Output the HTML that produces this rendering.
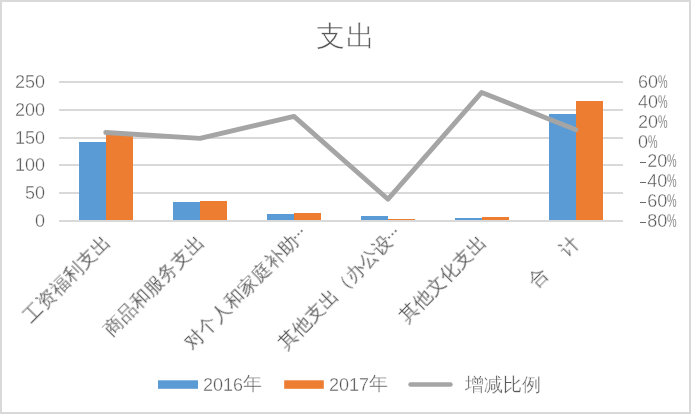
<!DOCTYPE html>
<html><head><meta charset="utf-8">
<style>
html,body{margin:0;padding:0;background:#fff;}
body{width:691px;height:414px;position:relative;overflow:hidden;font-family:"Liberation Sans",sans-serif;color:#595959;}
.frame{position:absolute;left:0;top:0;width:691px;height:414px;box-sizing:border-box;border:2px solid #d9d9d9;}
.t{position:absolute;white-space:nowrap;line-height:1;will-change:transform;-webkit-text-stroke:0.35px #fff;}
.title{-webkit-text-stroke:0.6px #fff;left:316.4px;top:22.2px;font-size:28.5px;letter-spacing:0.5px;}
.yl{font-size:18px;text-align:right;width:40px;}
.yr{font-size:18px;text-align:left;}
.pc{display:inline-block;transform:scaleX(0.6);transform-origin:0 50%;}
.mn{display:inline-block;position:relative;width:9.2px;height:1px;}
.mn::before{content:"";position:absolute;left:2.3px;top:-4.4px;width:5.8px;height:1px;background:#6a6a6a;}
.el{position:absolute;left:100%;top:0;width:0;height:100%;-webkit-text-stroke:0;}
.el::before{content:"";position:absolute;left:0.3px;top:8.2px;width:1.9px;height:1.9px;border-radius:1px;background:#595959;box-shadow:4.6px 0 0 #595959,9.2px 0 0 #595959;}
.gap{display:inline-block;width:25px;}
.cat{-webkit-text-stroke:0.15px #fff;font-size:19.4px;transform-origin:100% 50%;transform:rotate(-45deg);text-align:right;}
.leg{font-size:18px;}
.cj{font-size:19.4px;position:relative;top:-1px;}
</style></head>
<body>
<div class="frame"></div>
<svg width="691" height="414" style="position:absolute;left:0;top:0">
  <g fill="#d9d9d9" shape-rendering="crispEdges">
    <rect x="59" y="81" width="564" height="2"/>
    <rect x="59" y="109" width="564" height="2"/>
    <rect x="59" y="137" width="564" height="2"/>
    <rect x="59" y="164" width="564" height="2"/>
    <rect x="59" y="192" width="564" height="2"/>
    <rect x="59" y="220" width="564" height="2"/>
  </g>
  <g fill="#5b9bd5" shape-rendering="crispEdges">
    <rect x="79" y="142" width="27" height="78"/>
    <rect x="173" y="202" width="27" height="18"/>
    <rect x="267" y="214" width="27" height="6"/>
    <rect x="361" y="216" width="27" height="4"/>
    <rect x="455" y="218" width="27" height="2"/>
    <rect x="549" y="114" width="27" height="106"/>
  </g>
  <g fill="#ed7d31" shape-rendering="crispEdges">
    <rect x="106" y="134" width="27" height="86"/>
    <rect x="200" y="201" width="27" height="19"/>
    <rect x="294" y="213" width="27" height="7"/>
    <rect x="388" y="219" width="27" height="1"/>
    <rect x="482" y="217" width="27" height="3"/>
    <rect x="576" y="101" width="27" height="119"/>
  </g>
  <polyline points="105.7,132.5 200,138.4 294,116.4 388,199.2 481.7,92.4 576,129.7" fill="none" stroke="#a5a5a5" stroke-width="4.8" stroke-linejoin="round" stroke-linecap="round"/>
  <rect x="158" y="380.3" width="40" height="8.5" fill="#5b9bd5"/>
  <rect x="284.2" y="380.3" width="39.6" height="8.5" fill="#ed7d31"/>
  <line x1="410.5" y1="384.5" x2="450.5" y2="384.5" stroke="#a5a5a5" stroke-width="4.5" stroke-linecap="round"/>
</svg>
<div class="t title">支出</div>

<div class="t yl" style="left:5px;top:73px">250</div>
<div class="t yl" style="left:5px;top:101px">200</div>
<div class="t yl" style="left:5px;top:129px">150</div>
<div class="t yl" style="left:5px;top:156px">100</div>
<div class="t yl" style="left:5px;top:184px">50</div>
<div class="t yl" style="left:5px;top:212px">0</div>

<div class="t yr" style="left:638px;top:73px">60<span class="pc">%</span></div>
<div class="t yr" style="left:638px;top:93px">40<span class="pc">%</span></div>
<div class="t yr" style="left:638px;top:113px">20<span class="pc">%</span></div>
<div class="t yr" style="left:638px;top:133px">0<span class="pc">%</span></div>
<div class="t yr" style="left:638px;top:152px"><span class="mn"></span>20<span class="pc">%</span></div>
<div class="t yr" style="left:638px;top:172px"><span class="mn"></span>40<span class="pc">%</span></div>
<div class="t yr" style="left:638px;top:192px"><span class="mn"></span>60<span class="pc">%</span></div>
<div class="t yr" style="left:638px;top:212px"><span class="mn"></span>80<span class="pc">%</span></div>

<div class="t cat" id="c0" style="right:584.5px;top:229px">工资福利支出</div>
<div class="t cat" id="c1" style="right:490.5px;top:229px">商品和服务支出</div>
<div class="t cat" id="c2" style="right:396.5px;top:229px">对个人和家庭补助<span class="el"></span></div>
<div class="t cat" id="c3" style="right:302.5px;top:229px">其他支出（办公设<span class="el"></span></div>
<div class="t cat" id="c4" style="right:208.5px;top:229px">其他文化支出</div>
<div class="t cat" id="c5" style="right:115.3px;top:229.8px">合<span class="gap"></span>计</div>

<div class="t leg" style="left:203px;top:375.2px">2016<span class="cj">年</span></div>
<div class="t leg" style="left:329px;top:375.2px">2017<span class="cj">年</span></div>
<div class="t leg" style="left:465px;top:376.2px"><span class="cj">增减比例</span></div>
</body></html>
